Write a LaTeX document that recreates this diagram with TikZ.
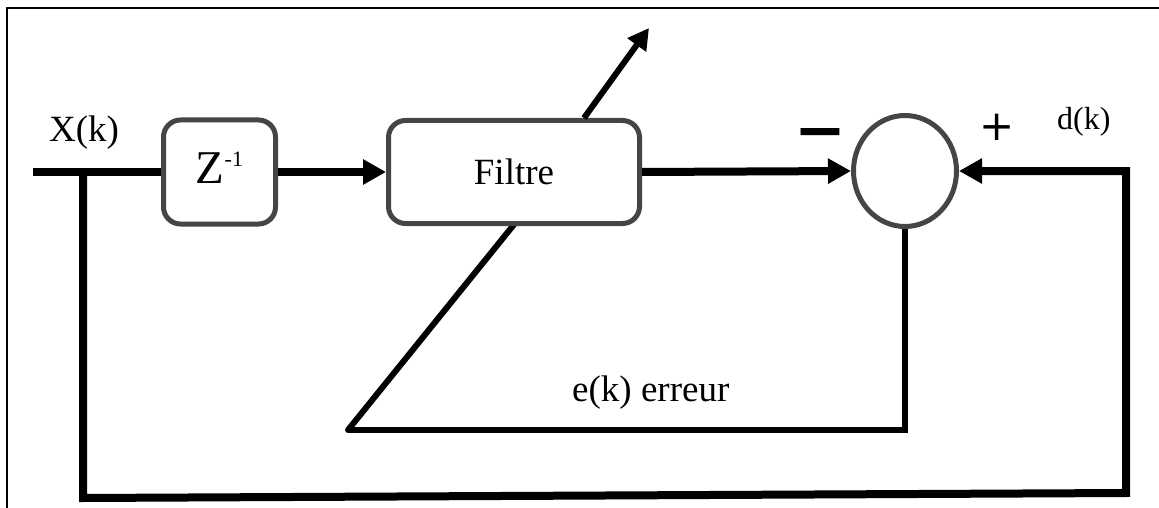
\documentclass[tikz,border=0pt]{standalone}
\usepackage{fontspec}
\setmainfont{Liberation Serif}
\newfontfamily\symsans{DejaVu Sans}
\usetikzlibrary{arrows.meta,shapes.geometric,calc,backgrounds}
\definecolor{boxgray}{HTML}{454545}
\begin{document}
\begin{tikzpicture}[x=1pt,y=-1pt,
  block/.style={draw=boxgray, line width=5pt, rounded corners=17pt, fill=white, inner sep=0pt},
  sig/.style={line width=8pt},
  errsig/.style={line width=6pt},
  tip/.style={-{Triangle[length=23pt,width=24pt]}},
  lbl/.style={inner sep=0pt, anchor=base west, font=\fontsize{37}{44}\selectfont}]
\useasboundingbox (0,0) rectangle (1159,508);

% outer frame
\draw[line width=1.5pt] (7,508) -- (7,8) -- (1159,8);

% blocks
\node[block, minimum width=112pt, minimum height=104pt] (zbox) at (219.5,172)
  {\raisebox{0pt}[31pt][9pt]{{\fontsize{47}{50}\selectfont Z}\raisebox{17pt}{\fontsize{22}{24}\selectfont -1}}};
\node[block, minimum width=251pt, minimum height=103pt, font=\fontsize{37}{44}\selectfont] (filtre) at (514,172) {Filtre};
\node[ellipse, draw=boxgray, line width=5pt, fill=white, minimum width=103pt, minimum height=111pt, inner sep=0pt] (sum) at (905,171) {};

% corner points of the wiring
\coordinate (xin) at (33,172);
\coordinate (tap) at (83,172);
\coordinate (bl) at (83,498);
\coordinate (br) at (1126,493);
\coordinate (tr) at (1126,171);
\coordinate (ecorner) at (348,430);
\coordinate (adapt) at (649,28);

% forward path
\draw[sig] (xin) -- (zbox.west);
\draw[sig,tip] (zbox.east) -- (filtre.west);
\draw[sig,tip] (filtre.east) -- (sum.west);

% reference signal loop
\draw[sig,tip] (tap) -- (bl) -- (br) -- (tr) -- (sum.east);

% error feedback to the filter
\draw[errsig] (sum.south) |- (ecorner);
\begin{scope}[on background layer]
  \draw[errsig, line cap=round] (ecorner) -- ($(filtre.south)+(2,-4)$);
\end{scope}
\draw[errsig, -{Triangle[length=21pt,width=22pt]}] ($(filtre.north)+(70,0)$) -- (adapt);

% labels
\node[lbl] (xk) at (49,142) {X(k)};
\node[lbl, font=\fontsize{32}{38}\selectfont] (dk) at (1057,130) {d(k)};
\node[lbl] (ek) at (572,401) {e(k) erreur};
\node[inner sep=0pt, anchor=base, font=\symsans\fontsize{42}{50}\selectfont] (plus) at (997,141) {+};
\node[inner sep=0pt, anchor=base, font=\symsans\bfseries\fontsize{62}{70}\selectfont] (minus) at (820,151) {−};
\end{tikzpicture}
\end{document}
